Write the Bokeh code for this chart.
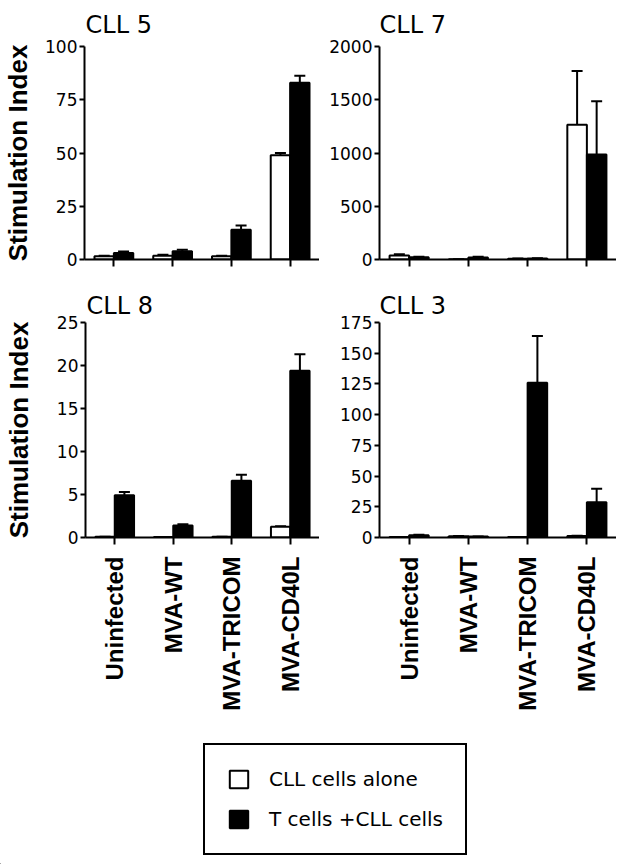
import math
from bokeh.plotting import figure
from bokeh.models import (ColumnDataSource, FactorRange, Range1d, FixedTicker,
                          Whisker, TeeHead, Legend, LegendItem)
from bokeh.transform import dodge
from bokeh.layouts import column, row
from bokeh.embed import file_html
from bokeh.resources import INLINE

categories = ["Uninfected", "MVA-WT", "MVA-TRICOM", "MVA-CD40L"]

cll5_alone = [1.5, 1.8, 1.5, 49]
cll5_alone_err = [0.3, 0.4, 0.3, 1.0]
cll5_tcells = [3.1, 3.9, 14, 83]
cll5_tcells_err = [0.6, 0.7, 2.0, 3.3]
cll5_ticks = [0, 25, 50, 75, 100]

cll7_alone = [37, 2, 6, 1265]
cll7_alone_err = [13, 0, 3, 505]
cll7_tcells = [22, 19, 9, 985]
cll7_tcells_err = [3, 6, 3, 500]
cll7_ticks = [0, 500, 1000, 1500, 2000]

cll8_alone = [0.1, 0.05, 0.1, 1.25]
cll8_alone_err = [0, 0, 0, 0.05]
cll8_tcells = [4.9, 1.4, 6.6, 19.4]
cll8_tcells_err = [0.4, 0.15, 0.7, 1.9]
cll8_ticks = [0, 5, 10, 15, 20, 25]

cll3_alone = [0.5, 1.0, 0.5, 1.3]
cll3_alone_err = [0, 0.2, 0, 0.2]
cll3_tcells = [1.9, 0.8, 126, 28.7]
cll3_tcells_err = [0.3, 0.1, 38, 11]
cll3_ticks = [0, 25, 50, 75, 100, 125, 150, 175]

series_names = ["CLL cells alone", "T cells +CLL cells"]

BW = 0.33
OFF = 0.165


def panel(title, alone, alone_err, tcells, tcells_err, ticks, width, height,
          b_left, b_top, b_bottom, show_labels, ylabel, ylabel_standoff,
          title_standoff, title_offset):
    p = figure(x_range=FactorRange(*categories), y_range=Range1d(0, ticks[-1]),
               width=width, height=height, output_backend="svg",
               toolbar_location=None, min_border_left=b_left, min_border_right=0,
               min_border_top=b_top, min_border_bottom=b_bottom)
    src = ColumnDataSource(dict(
        cat=categories, alone=alone,
        alone_top=[a + e for a, e in zip(alone, alone_err)],
        tcells=tcells,
        tcells_top=[a + e for a, e in zip(tcells, tcells_err)]))
    p.vbar(x=dodge("cat", -OFF, range=p.x_range), top="alone", width=BW,
           source=src, fill_color="white", line_color="black", line_width=2)
    p.vbar(x=dodge("cat", OFF, range=p.x_range), top="tcells", width=BW,
           source=src, fill_color="black", line_color="black", line_width=2)
    for col, off in (("alone", -OFF), ("tcells", OFF)):
        w = Whisker(base=dodge("cat", off, range=p.x_range), lower=col,
                    upper=col + "_top", source=src, line_color="black",
                    line_width=2, lower_head=None,
                    upper_head=TeeHead(size=11, line_color="black", line_width=2))
        p.add_layout(w)
    p.xgrid.visible = False
    p.ygrid.visible = False
    p.outline_line_color = None
    p.axis.axis_line_width = 2
    p.axis.axis_line_color = "black"
    p.axis.major_tick_line_width = 2
    p.axis.major_tick_line_color = "black"
    p.yaxis.ticker = FixedTicker(ticks=ticks)
    p.yaxis.minor_tick_line_color = None
    p.yaxis.major_tick_out = 5
    p.yaxis.major_tick_in = 0
    p.yaxis.major_label_standoff = 2
    p.yaxis.major_label_text_font = "DejaVu Sans"
    p.yaxis.major_label_text_font_size = "17px"
    p.yaxis.major_label_text_color = "black"
    p.xaxis.major_tick_out = 7
    p.xaxis.major_tick_in = 0
    if show_labels:
        p.xaxis.major_label_orientation = math.pi / 2
        p.xaxis.major_label_standoff = 12
        p.xaxis.major_label_text_font = "Liberation Sans"
        p.xaxis.major_label_text_font_style = "bold"
        p.xaxis.major_label_text_font_size = "24px"
        p.xaxis.major_label_text_color = "black"
    else:
        p.xaxis.major_label_text_color = None
        p.xaxis.major_label_text_font_size = "1px"
    if ylabel:
        p.yaxis.axis_label = ylabel
        p.yaxis.axis_label_text_font = "Liberation Sans"
        p.yaxis.axis_label_text_font_style = "bold"
        p.yaxis.axis_label_text_font_size = "26px"
        p.yaxis.axis_label_text_color = "black"
        p.yaxis.axis_label_standoff = ylabel_standoff
    p.title.text = title
    p.title.text_font = "DejaVu Sans"
    p.title.text_font_style = "normal"
    p.title.text_font_size = "24px"
    p.title.text_color = "black"
    p.title.align = "left"
    p.title.offset = title_offset
    p.title.standoff = title_standoff
    return p


p1 = panel("CLL 5", cll5_alone, cll5_alone_err, cll5_tcells, cll5_tcells_err,
           cll5_ticks, 319, 273, 82, 44, 14, False, "Stimulation Index", 9, 16, 1)
p2 = panel("CLL 7", cll7_alone, cll7_alone_err, cll7_tcells, cll7_tcells_err,
           cll7_ticks, 297, 273, 60, 44, 14, False, None, 0, 16, 0)
p3 = panel("CLL 8", cll8_alone, cll8_alone_err, cll8_tcells, cll8_tcells_err,
           cll8_ticks, 319, 442, 83, 49, 178, True, "Stimulation Index", 20, 5, 1)
p4 = panel("CLL 3", cll3_alone, cll3_alone_err, cll3_tcells, cll3_tcells_err,
           cll3_ticks, 297, 442, 60, 49, 178, True, None, 0, 5, 0)

leg = figure(width=616, height=149, output_backend="svg", toolbar_location=None,
             x_range=Range1d(0, 1), y_range=Range1d(0, 1),
             min_border_left=0, min_border_right=0, min_border_top=0,
             min_border_bottom=0, x_axis_location=None, y_axis_location=None)
leg.xgrid.visible = False
leg.ygrid.visible = False
leg.outline_line_color = None
# legend swatches only: the data of these two renderers lies outside the view
r_alone = leg.vbar(x=[-5], top=[-5], width=0.1, fill_color="white",
                   line_color="black", line_width=2)
r_t = leg.vbar(x=[-5], top=[-5], width=0.1, fill_color="black",
               line_color="black", line_width=2)
legend = Legend(items=[LegendItem(label=series_names[0], renderers=[r_alone]),
                       LegendItem(label=series_names[1], renderers=[r_t])],
                location=(203, 9), orientation="vertical",
                border_line_color="black", border_line_width=2,
                border_line_alpha=1,
                background_fill_color="white", background_fill_alpha=1,
                label_text_font="DejaVu Sans", label_text_font_size="20px",
                label_text_color="black", glyph_width=23, glyph_height=22,
                label_standoff=19, padding=22, spacing=16, margin=0)
leg.add_layout(legend, "center")

layout = column(row(p1, p2), row(p3, p4), leg)
open("out.html", "w").write(file_html(layout, INLINE))
